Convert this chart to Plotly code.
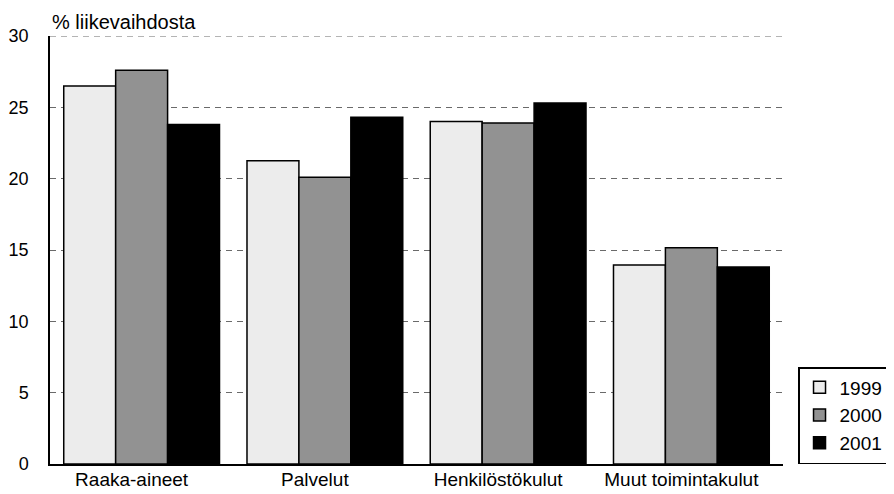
import plotly.graph_objects as go

categories = ["Raaka-aineet", "Palvelut", "Henkilöstökulut", "Muut toimintakulut"]
years = ["1999", "2000", "2001"]
values_1999 = [26.5, 21.25, 24.0, 13.95]
values_2000 = [27.6, 20.1, 23.9, 15.15]
values_2001 = [23.8, 24.3, 25.3, 13.8]
y_ticks = [0, 5, 10, 15, 20, 25, 30]

series = [values_1999, values_2000, values_2001]
colors = ["#ececec", "#929292", "#000000"]

fig = go.Figure()
for name, vals, col in zip(years, series, colors):
    fig.add_trace(go.Bar(
        x=categories, y=vals, name=name,
        marker=dict(color=col, line=dict(color="#000000", width=1.5)),
    ))

grid_color = "#6a6a6a"
grid_dash = "6px,5px"
font_family = "Liberation Sans, Arial, sans-serif"
fig.update_layout(
    width=886, height=486,
    margin=dict(l=42, r=111, t=28, b=30, autoexpand=False),
    paper_bgcolor="white", plot_bgcolor="white",
    barmode="group", bargap=0.15, bargroupgap=0,
    font=dict(family=font_family, size=18, color="#000000"),
    showlegend=True,
    legend=dict(
        x=1.0205, xanchor="left", y=0, yanchor="bottom",
        bordercolor="#000000", borderwidth=1.5,
        font=dict(size=19), tracegroupgap=0, itemwidth=30,
    ),
    xaxis=dict(
        showline=True, linecolor="#000000", linewidth=1.5,
        ticks="", tickfont=dict(size=19), showgrid=False,
        ticklabelshift=-10, ticklabelstandoff=-3,
    ),
    yaxis=dict(
        range=[0, 30], tickvals=y_ticks, showline=True,
        linecolor="#000000", linewidth=1.5, ticks="",
        showgrid=True, gridcolor=grid_color, griddash=grid_dash, gridwidth=1,
        tickfont=dict(size=18), zeroline=False, ticklabelstandoff=16,
    ),
    shapes=[dict(
        type="line", xref="paper", x0=0, x1=1, yref="y", y0=y_ticks[-1], y1=y_ticks[-1],
        line=dict(color=grid_color, width=1, dash=grid_dash), layer="below",
    )],
    annotations=[dict(
        text="% liikevaihdosta", xref="paper", yref="paper",
        x=0.0, y=1, xanchor="left", yanchor="bottom", yshift=1,
        showarrow=False, font=dict(size=20),
    )],
)

fig.write_html("out.html")
